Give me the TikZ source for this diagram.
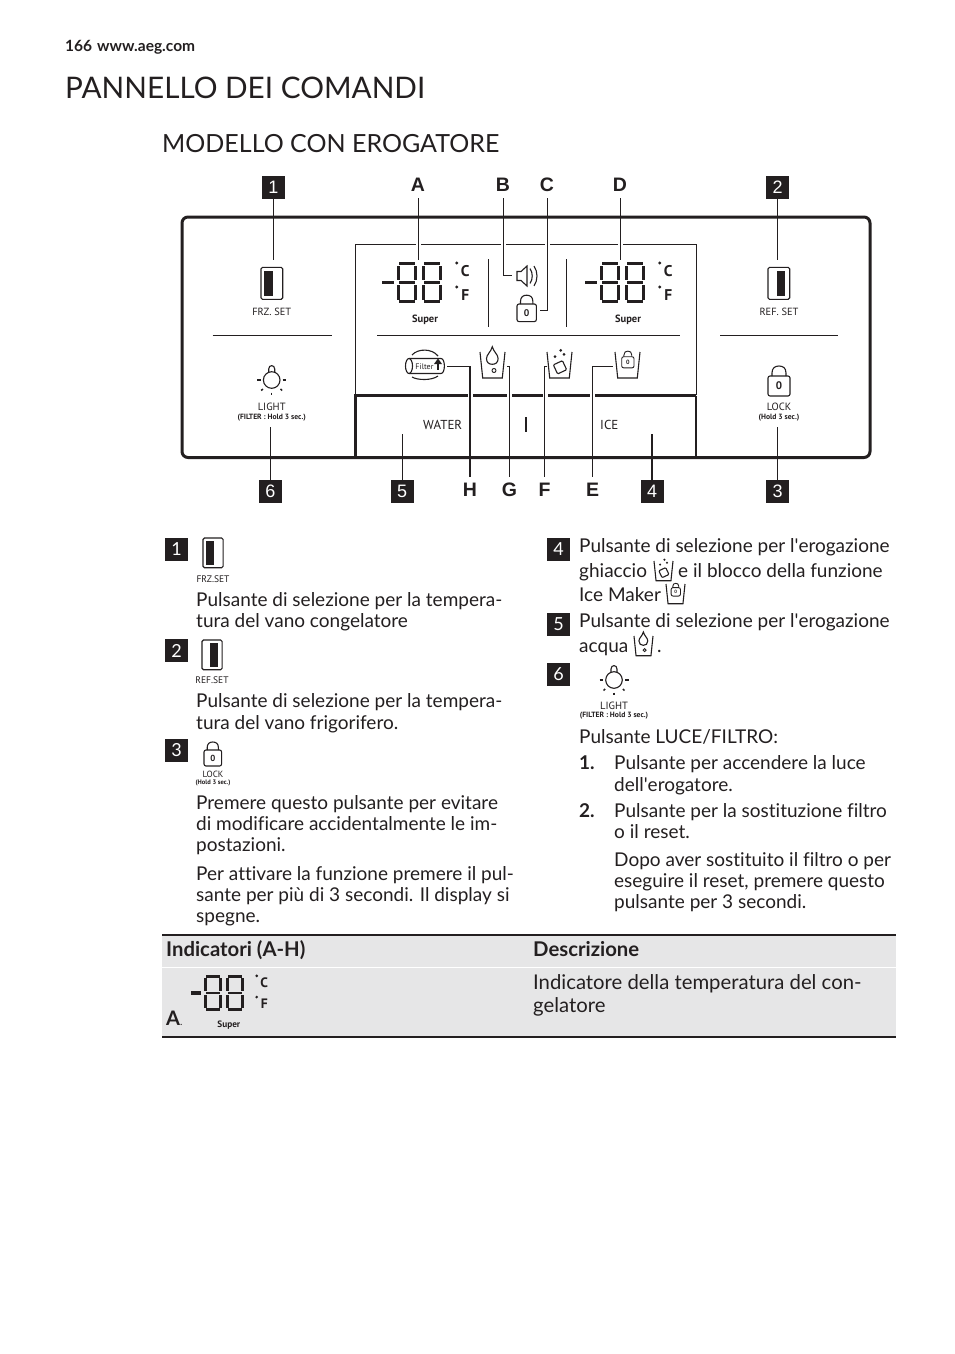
\documentclass[tikz,border=0pt]{standalone}
\usepackage{fontspec}
\usepackage{xcolor}
\usetikzlibrary{positioning,calc}
\setmainfont[Ligatures=NoCommon]{Lato}
\newfontfamily\panelfont{PT Sans}
\newfontfamily\arialfont{Liberation Sans}
\definecolor{inkc}{HTML}{231F20}
\definecolor{bandc}{HTML}{E6E6E7}
\newcommand{\fsz}[1]{\fontsize{#1}{#1}\selectfont}
\newcommand{\apos}{\textquotesingle}
\newcommand{\cupshape}{\draw[icon] (0,0) -- (2.7,26) -- (22.3,26) -- (25,0);}
\newcommand{\lockshape}{%
  \draw[icon, rounded corners=2pt] (0,0) rectangle (22,20);
  \draw[icon] (4,0) -- (4,-3) .. controls (4,-8) and (7,-10) .. (11,-10)
    .. controls (15,-10) and (18,-8) .. (18,-3) -- (18,0);
  \node[panellabel, transform shape, font=\panelfont\fsz{11}\bfseries] (-z) at (11,10) {0};}

\tikzset{
  icon/.style={draw=inkc, line width=1.1pt},
  lead/.style={draw=inkc, line width=1pt},
  hrule/.style={draw=inkc, line width=1pt},
  bodyline/.style={anchor=base west, inner sep=0pt, text=inkc, font=\fsz{19}},
  boldline/.style={bodyline, font=\fsz{19}\bfseries},
  cellline/.style={bodyline, font=\fsz{20.3}},
  numbox/.style={fill=inkc, text=white, inner sep=0pt, minimum width=23pt, minimum height=23pt, font=\arialfont\fsz{18}},
  legbox/.style={numbox, font=\fsz{18}},
  letter/.style={inner sep=0pt, minimum height=26pt, text=inkc, font=\arialfont\fsz{19.5}\bfseries},
  panellabel/.style={inner sep=0pt, text=inkc, font=\panelfont\fsz{10.4}},
  panelsmall/.style={inner sep=0pt, text=inkc, font=\panelfont\fsz{7.6}\bfseries},
  pics/tempdisp/.style={code={
    \fill[inkc] (0,18.6) rectangle (11.5,22.4);
    \foreach \dx in {14.7,39.7} {
      \foreach \yy in {0,18.9,37.8}
        \fill[inkc] (\dx+2,\yy) rectangle (\dx+18,\yy+3.2);
      \foreach \xx in {0,16.8}
        \foreach \yy in {3.6,22.7}
          \fill[inkc] (\dx+\xx,\yy) rectangle (\dx+\xx+3.2,\yy+14.8);
    }
    \fill[inkc] (74.7,1) circle (1.7);
    \fill[inkc] (74.7,25) circle (1.7);
    \node[panellabel, transform shape, font=\panelfont\fsz{15.5}\bfseries] (-c) at (83.3,9) {C};
    \node[panellabel, transform shape, font=\panelfont\fsz{15.5}\bfseries] (-f) at (83.3,33) {F};
    \node[panellabel, transform shape, font=\panelfont\fsz{10.5}\bfseries] (-s) at (43,57.5) {Super};
  }},
  pics/doorbtn/.style={code={
    \draw[icon, rounded corners=1.5pt] (0,0) rectangle (21.7,32);
    \fill[inkc] (#1,3.4) rectangle (#1+8.5,29);
  }},
  pics/lockbtn/.style={code={\lockshape}},
  pics/cupwater/.style={code={
    \cupshape
    \draw[icon] (12.3,-5.3) .. controls (11,0) and (6.5,2.5) .. (6.5,6.5)
      .. controls (6.5,10.5) and (9,12.3) .. (12.3,12.3)
      .. controls (15.6,12.3) and (18.1,10.5) .. (18.1,6.5)
      .. controls (18.1,2.5) and (13.6,0) .. (12.3,-5.3) -- cycle;
    \draw[icon, line width=.9pt] (14,18.5) circle (2);
  }},
  pics/cupice/.style={code={
    \cupshape
    \draw[icon, rounded corners=1pt, rotate around={25:(13,15.3)}] (8,10.3) rectangle (18,20.3);
    \foreach \px/\py in {8/4.7,13.7/-1.7,17/2.3}
      \fill[inkc] (\px,\py) circle (1.5);
  }},
  pics/cuplock/.style={code={
    \cupshape
    \begin{scope}[shift={(6.7,4.7)}, scale=.56, icon/.append style={line width=.9pt}]
      \lockshape
    \end{scope}
  }},
  pics/bulbbtn/.style={code={
    \draw[icon] (0,0) circle (8.3);
    \draw[icon] (-3,-7.6) -- (-3,-11) .. controls (-3,-15.5) and (3,-15.5) .. (3,-11) -- (3,-7.6);
    \draw[icon] (-14.5,0) -- (-11,0);
    \draw[icon] (11,0) -- (14.5,0);
    \draw[icon, line width=1.5pt] (-10.5,10.5) -- (-8.8,9);
    \draw[icon, line width=1.5pt] (10.5,10.5) -- (8.8,9);
    \draw[icon, line width=1.5pt] (0,12.5) -- (0,15);
  }},
}

\begin{document}
\begin{tikzpicture}[x=1pt, y=-1pt]
  \path[fill=white, use as bounding box] (0,0) rectangle (954,1354);

  % page head
  \node[boldline, font=\fsz{15.5}\bfseries] (pageno) at (65,52) {166};
  \node[boldline, font=\fsz{15.5}\bfseries] (pageurl) at (97,52) {www.aeg.com};
  \node[bodyline, font=\fsz{29.7}] (title) at (65,98) {PANNELLO DEI COMANDI};
  \node[bodyline, font=\fsz{25}] (subtitle) at (162,152) {MODELLO CON EROGATORE};

  % panel frame
  \draw[draw=inkc, line width=3pt, rounded corners=6pt] (182,217) rectangle (870,457.5);
  \draw[hrule] (355,395) |- (696,244) -- (696,395);
  \draw[draw=inkc, line width=3pt] (355,457) -- (355,395.5) -- (696,395.5);
  \draw[draw=inkc, line width=1.8pt] (696,395.5) -- (696,457);
  \draw[hrule] (212.7,335.7) -- (331.7,335.7);
  \draw[hrule] (720,335.7) -- (838,335.7);
  \draw[hrule] (377,335.2) -- (680,335.2);
  \draw[hrule] (488,259) -- (488,326.7);
  \draw[hrule] (566.3,259) -- (566.3,326.7);
  \foreach \gx/\gy in {418/244,503/244,547/244,620/244,470/395.5,509/395.5,545/395.5,592/395.5}
    \fill[white] (\gx-2.5,\gy-2.5) rectangle (\gx+2.5,\gy+2.5);

  % panel displays and buttons
  \pic (dispfrz) at (382,262) {tempdisp};
  \pic (dispref) at (585,262) {tempdisp};
  \pic at (261,267.3) {doorbtn=3};
  \pic at (768,267.3) {doorbtn=8.7};
  \pic at (768,376) {lockbtn};
  \pic[shift={(517,304)}, scale=.88] {lockbtn};
  \pic at (271.7,380) {bulbbtn};
  \pic at (480,352) {cupwater};
  \pic at (547,352) {cupice};
  \pic at (615,352) {cuplock};
  \node[panellabel] (frzset) at (271.7,312) {FRZ. SET};
  \node[panellabel] (refset) at (779,312) {REF. SET};
  \node[panellabel, font=\panelfont\fsz{10.5}] (lightlbl) at (271.7,407) {LIGHT};
  \node[panelsmall] (filterlbl) at (271.7,417.3) {(FILTER : Hold 3 sec.)};
  \node[panellabel, font=\panelfont\fsz{10.5}] (locklbl) at (779,407) {LOCK};
  \node[panelsmall] (holdlbl) at (779,417.3) {(Hold 3 sec.)};
  \node[panellabel, font=\panelfont\fsz{13}] (waterlbl) at (442.7,425) {WATER};
  \node[panellabel, font=\panelfont\fsz{13}] (icelbl) at (609.3,425) {ICE};
  \draw[draw=inkc, line width=2pt] (526,417) -- (526,432);

  % speaker
  \draw[icon] (517,271.5) -- (521,271.5) -- (527,266) -- (527,286) -- (521,280.5) -- (517,280.5) -- cycle;
  \draw[icon] (530,268.5) .. controls (533,273) and (533,279) .. (530,283.5);
  \draw[icon] (534,266) .. controls (538,272) and (538,280) .. (534,286);

  % filter
  \draw[icon] (409,358.5) -- (441,358.5) .. controls (445.5,358.5) and (445.5,373.5) .. (441,373.5) -- (409,373.5);
  \draw[icon] (409,366) ellipse (3.5 and 7.5);
  \draw[icon] (412,355) .. controls (418,348.3) and (432,348.3) .. (438,356);
  \draw[icon] (412,377) .. controls (418,380.5) and (432,380.5) .. (438,376);
  \node[panellabel, font=\panelfont\fsz{8}] (filterwd) at (424.5,366.5) {Filter};
  \fill[inkc] (438,358.5) -- (442,364) -- (434,364) -- cycle;
  \draw[icon] (438,364) -- (438,370);

  % callouts
  \node[numbox] (num1) at (273.5,187.5) {1};
  \node[numbox] (num2) at (777.5,187.5) {2};
  \node[numbox] (num3) at (777.5,491.5) {3};
  \node[numbox] (num4) at (652,491.5) {4};
  \node[numbox] (num5) at (402,491.5) {5};
  \node[numbox] (num6) at (270.5,491.5) {6};
  \node[letter] (lblA) at (418,185) {A};
  \node[letter] (lblB) at (503,185) {B};
  \node[letter] (lblC) at (547,185) {C};
  \node[letter] (lblD) at (620,185) {D};
  \node[letter] (lblE) at (592.7,490) {E};
  \node[letter] (lblF) at (544.5,490) {F};
  \node[letter] (lblG) at (509.5,490) {G};
  \node[letter] (lblH) at (470,490) {H};
  \coordinate (tip1) at (273.5,260);
  \coordinate (tip2) at (777.5,260);
  \coordinate (tip3) at (777.5,427);
  \coordinate (tip4) at (652,434);
  \coordinate (tip5) at (402,434);
  \coordinate (tip6) at (270.5,427);
  \coordinate (tipA) at (418,260);
  \coordinate (tipB) at (512,275.6);
  \coordinate (tipC) at (540,310);
  \coordinate (tipD) at (620,260);
  \coordinate (tipE) at (612.7,366.6);
  \coordinate (tipF) at (547,366.6);
  \coordinate (tipG) at (506.7,366.6);
  \coordinate (tipH) at (446.7,366.6);
  \draw[lead] (num1) -- (tip1);
  \draw[lead] (num2) -- (tip2);
  \draw[lead] (num3) -- (tip3);
  \draw[lead, line width=1.6pt] (num4) -- (tip4);
  \draw[lead] (num5) -- (tip5);
  \draw[lead] (num6) -- (tip6);
  \draw[lead] (lblA) -- (tipA);
  \draw[lead] (lblB) |- (tipB);
  \draw[lead] (lblC) |- (tipC);
  \draw[lead] (lblD) -- (tipD);
  \draw[lead] (lblE) |- (tipE);
  \draw[lead, line width=1.6pt] (lblF) |- (tipF);
  \draw[lead] (lblG) |- (tipG);
  \draw[lead, line width=1.6pt] (lblH) |- (tipH);

  % left legend
  \node[legbox] (leg1) at (176.5,549.5) {1};
  \pic[shift={(203,538)}, scale=.93] {doorbtn=3};
  \node[panellabel, font=\panelfont\fsz{9.5}] (leg1lbl) at (213,579) {FRZ.SET};
  \node[bodyline] (leg1a) at (196,606) {Pulsante di selezione per la tempera-};
  \node[bodyline] (leg1b) at (196,627) {tura del vano congelatore};
  \node[legbox] (leg2) at (176.5,650.5) {2};
  \pic[shift={(202,640)}, scale=.93] {doorbtn=8.7};
  \node[panellabel, font=\panelfont\fsz{9.5}] (leg2lbl) at (212,680) {REF.SET};
  \node[bodyline] (leg2a) at (196,707) {Pulsante di selezione per la tempera-};
  \node[bodyline] (leg2b) at (196,729) {tura del vano frigorifero.};
  \node[legbox] (leg3) at (176.5,750.5) {3};
  \pic[shift={(204,750)}, scale=.8] {lockbtn};
  \node[panellabel, font=\panelfont\fsz{9}] (leg3lbl) at (213,774) {LOCK};
  \node[panelsmall, font=\panelfont\fsz{6.5}\bfseries] (leg3hold) at (213,783) {(Hold 3 sec.)};
  \node[bodyline] (leg3a) at (196,809) {Premere questo pulsante per evitare};
  \node[bodyline] (leg3b) at (196,830) {di modificare accidentalmente le im-};
  \node[bodyline] (leg3c) at (196,851) {postazioni.};
  \node[bodyline] (leg3d) at (196,880) {Per attivare la funzione premere il pul-};
  \node[bodyline] (leg3e) at (196,901) {sante per più di 3 secondi. Il display si};
  \node[bodyline] (leg3f) at (196,922) {spegne.};

  % right legend
  \node[legbox] (leg4) at (558.5,549.5) {4};
  \node[bodyline] (leg4a) at (579,552) {Pulsante di selezione per l\apos erogazione};
  \node[bodyline] (leg4b) at (579,577) {ghiaccio};
  \pic[shift={(654,561)}, scale=.76] {cupice};
  \node[bodyline] (leg4c) at (678,577) {e il blocco della funzione};
  \node[bodyline] (leg4d) at (579,601) {Ice Maker};
  \pic[shift={(666,584)}, scale=.76] {cuplock};
  \node[legbox] (leg5) at (558.5,624.5) {5};
  \node[bodyline] (leg5a) at (579,627) {Pulsante di selezione per l\apos erogazione};
  \node[bodyline] (leg5b) at (579,652) {acqua};
  \pic[shift={(634,636)}, scale=.76] {cupwater};
  \node[bodyline] (leg5c) at (657,652) {.};
  \node[legbox] (leg6) at (558.5,674.5) {6};
  \pic at (614,680) {bulbbtn};
  \node[panellabel, font=\panelfont\fsz{10.5}] (leg6lbl) at (614,706) {LIGHT};
  \node[panelsmall] (leg6filter) at (614,716) {(FILTER : Hold 3 sec.)};
  \node[bodyline] (leg6a) at (579,743) {Pulsante LUCE/FILTRO:};
  \node[boldline] (item1) at (579,769) {1.};
  \node[bodyline] (item1a) at (614,769) {Pulsante per accendere la luce};
  \node[bodyline] (item1b) at (614,791) {dell\apos erogatore.};
  \node[boldline] (item2) at (579,817) {2.};
  \node[bodyline] (item2a) at (614,817) {Pulsante per la sostituzione filtro};
  \node[bodyline] (item2b) at (614,838) {o il reset.};
  \node[bodyline] (item2c) at (614,866) {Dopo aver sostituito il filtro o per};
  \node[bodyline] (item2d) at (614,887) {eseguire il reset, premere questo};
  \node[bodyline] (item2e) at (614,908) {pulsante per 3 secondi.};

  % table
  \fill[bandc] (162,935) rectangle (896,966.5);
  \fill[bandc] (162,968) rectangle (896,1036);
  \draw[draw=inkc, line width=2pt] (162,935) -- (896,935);
  \draw[draw=inkc, line width=2pt] (162,1036.5) -- (896,1036.5);
  \node[cellline, font=\fsz{20.3}\bfseries] (headind) at (166,956) {Indicatori (A-H)};
  \node[cellline, font=\fsz{20.3}\bfseries] (headdes) at (533,956) {Descrizione};
  \pic[shift={(191,975)}, scale=.88] (disptab) {tempdisp};
  \node[cellline, font=\fsz{20}\bfseries] (rowA) at (166,1025) {A\fsz{10}\mdseries.};
  \node[cellline] (rowAa) at (533,989) {Indicatore della temperatura del con-};
  \node[cellline] (rowAb) at (533,1012) {gelatore};
\end{tikzpicture}
\end{document}
